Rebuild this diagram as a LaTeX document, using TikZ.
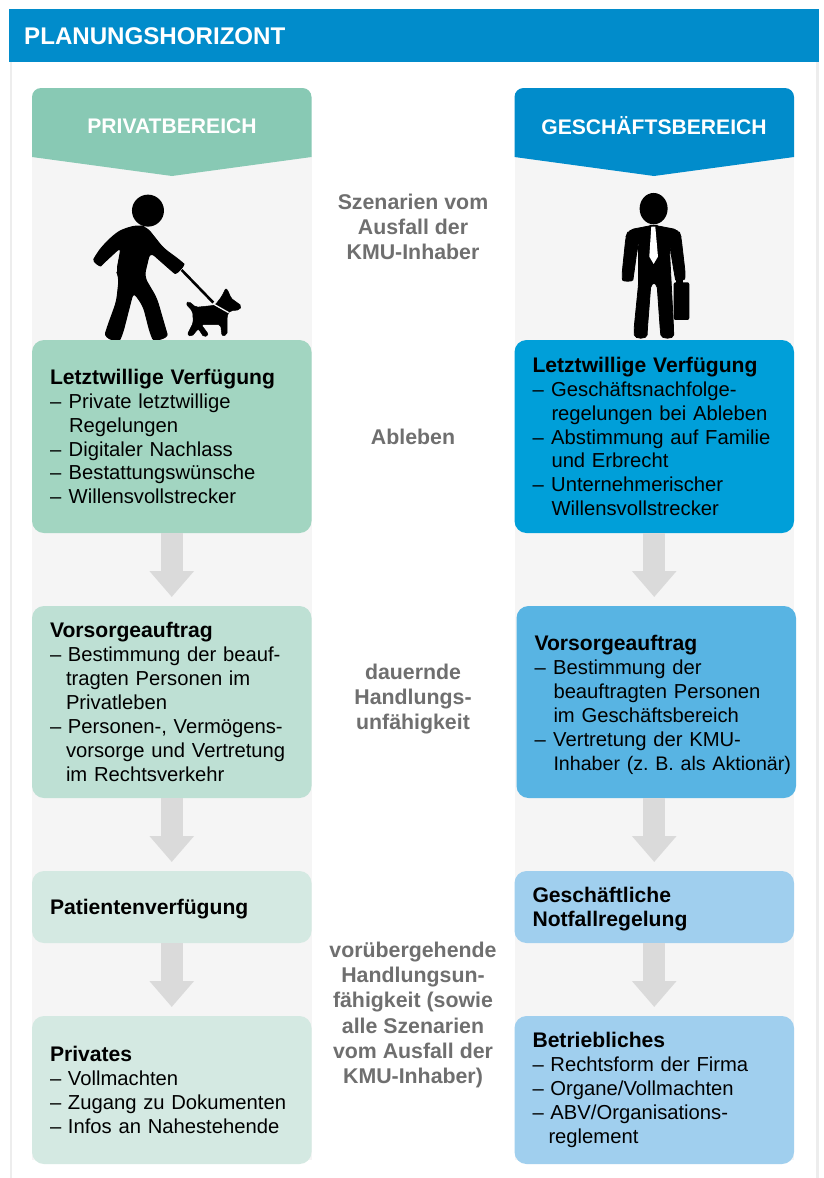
\documentclass[tikz,border=0pt]{standalone}
\usepackage{fontspec}
\setmainfont{Liberation Sans}
\usetikzlibrary{arrows.meta}
\definecolor{headblue}{HTML}{018CCB}
\definecolor{headgreen}{HTML}{88C9B4}
\definecolor{panelgray}{HTML}{F5F5F5}
\definecolor{framegray}{HTML}{EDEDED}
\definecolor{arrowgray}{HTML}{DADADA}
\definecolor{midgray}{HTML}{6F6F6F}
\definecolor{gA}{HTML}{A2D5C1}
\definecolor{gB}{HTML}{BEE0D4}
\definecolor{gC}{HTML}{D4E9E2}
\definecolor{bA}{HTML}{009FD9}
\definecolor{bB}{HTML}{58B4E3}
\definecolor{bC}{HTML}{A0CFEE}
\tikzset{
  x=1bp,y=-1bp,
  box/.style={rounded corners=12bp,inner sep=0pt,inner xsep=18bp,outer sep=0pt,align=left,text width=243.5bp,minimum width=279.5bp,anchor=north west,font=\fontsize{20.3}{24}\selectfont,text=black},
  midtext/.style={align=center,font=\fontsize{21.4}{25.3}\selectfont\bfseries,text=midgray,inner sep=0pt},
  flow/.style={draw=arrowgray,line width=22bp,-{Triangle[width=43bp,length=26bp]},shorten >=9bp},
  headtext/.style={font=\fontsize{21.2}{24}\selectfont\bfseries,text=white,inner sep=0pt},
}
\newcommand{\ind}{\hspace*{19bp}}
\newcommand{\dsh}{–\hspace*{7.5bp}}
\newcommand{\bhead}[1]{{\fontsize{21.2}{24}\selectfont\bfseries #1}}
\begin{document}
\begin{tikzpicture}
\useasboundingbox (0,0) rectangle (824,1178);
\fill[white] (0,0) rectangle (824,1178);
% frame
\fill[framegray] (9.5,62) rectangle (11.5,1178);
\fill[framegray] (816,62) rectangle (819,1178);
\node[fill=headblue,minimum width=810bp,minimum height=53bp,inner sep=0pt,anchor=north west] (top) at (9,9) {};
\node[anchor=west,font=\fontsize{24.2}{26}\selectfont\bfseries,text=white,inner sep=0pt] (toplabel) at (24,36) {PLANUNGSHORIZONT};
% panels
\fill[panelgray] (32,150) rectangle (311.5,1160);
\fill[panelgray] (514.5,150) rectangle (794,1160);
% column headers
\fill[headgreen] (32,157) [rounded corners=9bp] -- (32,88) -- (311.5,88) [sharp corners] -- (311.5,157) -- (172,176) -- cycle;
\fill[headblue] (514.5,157) [rounded corners=9bp] -- (514.5,88) -- (794,88) [sharp corners] -- (794,157) -- (654,176) -- cycle;
\node[headtext] (hp) at (172,126) {PRIVATBEREICH};
\node[headtext] (hg) at (654,126) {GESCHÄFTSBEREICH};
% walker
\begin{scope}[x=0.3333bp,y=-0.3333bp]
\fill[black] (444,632) circle [radius=48];
\filldraw[black,line width=1bp,rounded corners=6bp] (415,676) -- (380,684) .. controls (345,700) and (315,730) .. (290,762) .. controls (278,785) and (300,800) .. (315,785) -- (364,740) -- (350,815) -- (358,832) -- (350,905) -- (322,982) .. controls (312,1015) and (355,1030) .. (368,1000) -- (400,875) -- (430,918) -- (451,1000) .. controls (462,1025) and (505,1015) .. (496,985) -- (470,895) -- (432,830) -- (450,755) -- (510,808) .. controls (530,825) and (555,795) .. (538,780) -- (490,745) -- (440,682) -- cycle;
\draw[black,line width=2.6bp] (545,810) -- (640,908);
\filldraw[black,line width=0.5bp,rounded corners=2bp] (558,912) -- (566,904) -- (588,922) -- (645,916) -- (665,890) -- (678,864) -- (688,880) -- (692,894) -- (725,918) -- (718,930) -- (692,932) -- (682,942) -- (681,1005) -- (666,1008) -- (662,974) -- (604,974) -- (626,1004) -- (612,1012) -- (595,986) -- (575,1010) -- (562,1004) -- (580,968) -- (578,934) -- cycle;
\draw[panelgray,line width=1.3bp] (640,912) -- (686,938);
\end{scope}
% businessman
\begin{scope}[shift={(412,0)},x=0.3333bp,y=-0.3333bp]
\fill[black] (725,626) ellipse [x radius=42,y radius=47];
\filldraw[black,line width=0.8bp,rounded corners=5bp] (722,676) -- (650,690) -- (642,710) -- (630,825) .. controls (632,845) and (662,845) .. (665,825) -- (679,722) -- (680,850) -- (666,990) .. controls (668,1018) and (705,1018) .. (706,990) -- (717,848) -- (735,848) -- (745,990) .. controls (748,1018) and (785,1018) .. (785,990) -- (771,722) -- (788,825) .. controls (792,845) and (818,840) .. (820,822) -- (807,710) -- (800,690) -- (728,676) -- cycle;
\fill[black,rounded corners=2bp] (785,847) rectangle (832,960);
\fill[black] (792,832) rectangle (812,850);
\fill[white] (718,680) -- (730,680) -- (738,770) -- (725,792) -- (712,770) -- cycle;
\end{scope}
% left column boxes
\node[box,fill=gA,minimum height=193bp] (p1) at (32,340) {\bhead{Letztwillige Verfügung}\\\dsh Private letztwillige\\\ind Regelungen\\\dsh Digitaler Nachlass\\\dsh Bestattungswünsche\\\dsh Willensvollstrecker};
\node[box,fill=gB,minimum height=192bp] (p2) at (32,606) {\bhead{Vorsorgeauftrag}\\– Bestimmung der beauf-\\\hspace*{16bp}tragten Personen im\\\hspace*{16bp}Privatleben\\– Personen-, Vermögens-\\\hspace*{16bp}\mbox{vorsorge und Vertretung}\\\hspace*{16bp}im Rechtsverkehr};
\node[box,fill=gC,minimum height=72bp] (p3) at (32,871) {\raisebox{-7.5bp}[0pt][0pt]{\bhead{Patientenverfügung}}};
\node[box,fill=gC,minimum height=148bp] (p4) at (32,1016) {\bhead{Privates}\\– Vollmachten\\– Zugang zu Dokumenten\\– Infos an Nahestehende};
% right column boxes
\node[box,fill=bA,minimum height=193bp] (g1) at (514.5,340) {\bhead{Letztwillige Verfügung}\\\dsh Geschäftsnachfolge-\\\ind \mbox{regelungen bei Ableben}\\\dsh \mbox{Abstimmung auf Familie}\\\ind und Erbrecht\\\dsh Unternehmerischer\\\ind Willensvollstrecker};
\node[box,fill=bB,minimum height=192bp] (g2) at (516.5,606) {\rule{0pt}{21bp}\bhead{Vorsorgeauftrag}\\\dsh Bestimmung der\\\ind \mbox{beauftragten Personen}\\\ind im Geschäftsbereich\\\dsh Vertretung der KMU-\\\ind \mbox{\fontsize{19.7}{24}\selectfont\frenchspacing Inhaber (z. B. als Aktionär)}};
\node[box,fill=bC,minimum height=72bp] (g3) at (514.5,871) {\rule{0pt}{20bp}\bhead{Geschäftliche}\\\bhead{Notfallregelung}};
\node[box,fill=bC,minimum height=148bp] (g4) at (514.5,1016) {\bhead{Betriebliches}\\– Rechtsform der Firma\\– Organe/Vollmachten\\– ABV/Organisations-\\\hspace*{16bp}reglement};
% connectors
\draw[flow] (p1.south) -- (p2.north);
\draw[flow] (p2.south) -- (p3.north);
\draw[flow] (p3.south) -- (p4.north);
\draw[flow] (g1.south) -- (g1.south |- g2.north);
\draw[flow] (g3.north |- g2.south) -- (g3.north);
\draw[flow] (g3.south) -- (g4.north);
% middle labels
\node[midtext] (m1) at (413,227) {Szenarien vom\\Ausfall der\\KMU-Inhaber};
\node[midtext] (m2) at (413,437) {Ableben};
\node[midtext] (m3) at (413,699) {dauernde\\Handlungs-\\unfähigkeit};
\node[midtext] (m4) at (413,1015) {vorübergehende\\Handlungsun-\\fähigkeit (sowie\\alle Szenarien\\vom Ausfall der\\KMU-Inhaber)};
\end{tikzpicture}
\end{document}
